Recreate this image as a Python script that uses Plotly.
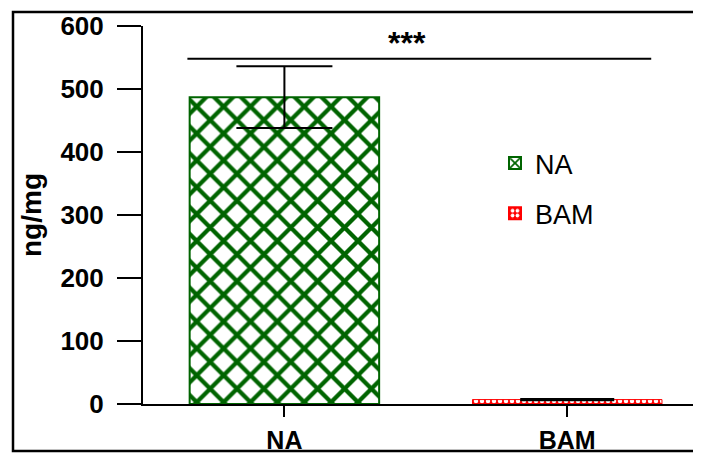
import plotly.graph_objects as go

categories = ["NA", "BAM"]
values = [487, 7]
errors = [49, 1]
series_names = ["NA", "BAM"]
y_ticks = [0, 100, 200, 300, 400, 500, 600]
sig_label = "***"
sig_level = 548

# page body has an 8px margin, so the figure is sized to end at the window edge
OFF = 8
W, H = 701 - OFF, 453 - OFF
L, R, T, B = 143 - OFF, 0, 26 - OFF, 49
pw, ph = W - L - R, H - T - B
FONT = "Liberation Sans, Arial"
GREEN = "#006400"


def px_to_paper_x(sx):
    return (sx - OFF - L) / pw


def px_to_paper_y(sy):
    return (H - B - (sy - OFF)) / ph


fig = go.Figure()
fig.add_trace(go.Bar(
    x=[categories[0]], y=[values[0]], name=series_names[0], width=0.67,
    marker=dict(color="white", line=dict(color=GREEN, width=2),
                pattern=dict(shape="x", fgcolor=GREEN, bgcolor="white", fgopacity=1,
                             size=19, solidity=0.4, fillmode="overlay")),
    error_y=dict(type="data", array=[errors[0]], color="black", thickness=2, width=48),
    legendgroup="a",
))
fig.add_trace(go.Bar(
    x=[categories[1]], y=[values[1]], name=series_names[1], width=0.67,
    marker=dict(color="#ff0000", line=dict(color="#ff0000", width=1),
                pattern=dict(shape=".", fgcolor="white", bgcolor="#ff0000", fgopacity=1,
                             size=6, solidity=0.45, fillmode="overlay")),
    error_y=dict(type="data", array=[errors[1]], color="black", thickness=2, width=47),
    legendgroup="b",
))

# significance line and stars
fig.add_shape(type="line", xref="x", yref="y", x0=-0.343, x1=1.297,
              y0=sig_level, y1=sig_level, line=dict(color="black", width=2))
fig.add_annotation(x=0.435, y=sig_level, xref="x", yref="y", text="<b>" + sig_label + "</b>",
                   showarrow=False, yanchor="bottom", yshift=-4,
                   font=dict(size=32, color="black", family=FONT))

# outer frame
fig.add_shape(type="rect", xref="paper", yref="paper",
              x0=px_to_paper_x(13), x1=px_to_paper_x(730),
              y0=px_to_paper_y(451), y1=px_to_paper_y(12),
              line=dict(color="black", width=2.5), fillcolor="rgba(0,0,0,0)", layer="below")

fig.update_layout(
    width=W, height=H,
    margin=dict(l=L, r=R, t=T, b=B, pad=0, autoexpand=False),
    plot_bgcolor="white", paper_bgcolor="white",
    font=dict(family=FONT, color="black"),
    showlegend=True,
    legend=dict(x=px_to_paper_x(495), y=px_to_paper_y(139), xanchor="left", yanchor="top",
                font=dict(size=27, color="black", family=FONT), bgcolor="rgba(0,0,0,0)",
                traceorder="grouped", tracegroupgap=12, itemsizing="constant"),
    xaxis=dict(range=[-0.5, 1.473], showline=True, linecolor="black", linewidth=2,
               automargin=False,
               ticks="outside", ticklen=11, tickwidth=2, tickcolor="black",
               ticklabelstandoff=2,
               tickfont=dict(size=25, family=FONT),
               tickvals=categories, ticktext=["<b>" + c + "</b>" for c in categories],
               showgrid=False, zeroline=False),
    yaxis=dict(range=[0, 600], showline=True, linecolor="black", linewidth=2,
               automargin=False,
               ticks="outside", ticklen=24, tickwidth=2, tickcolor="black",
               ticklabelstandoff=8,
               tickvals=y_ticks, ticktext=["<b>%d</b>" % v for v in y_ticks],
               tickfont=dict(size=26, family=FONT),
               title=dict(text="<b>ng/mg</b>", font=dict(size=28, family=FONT), standoff=11),
               showgrid=False, zeroline=False),
)

fig.write_html("out.html")
